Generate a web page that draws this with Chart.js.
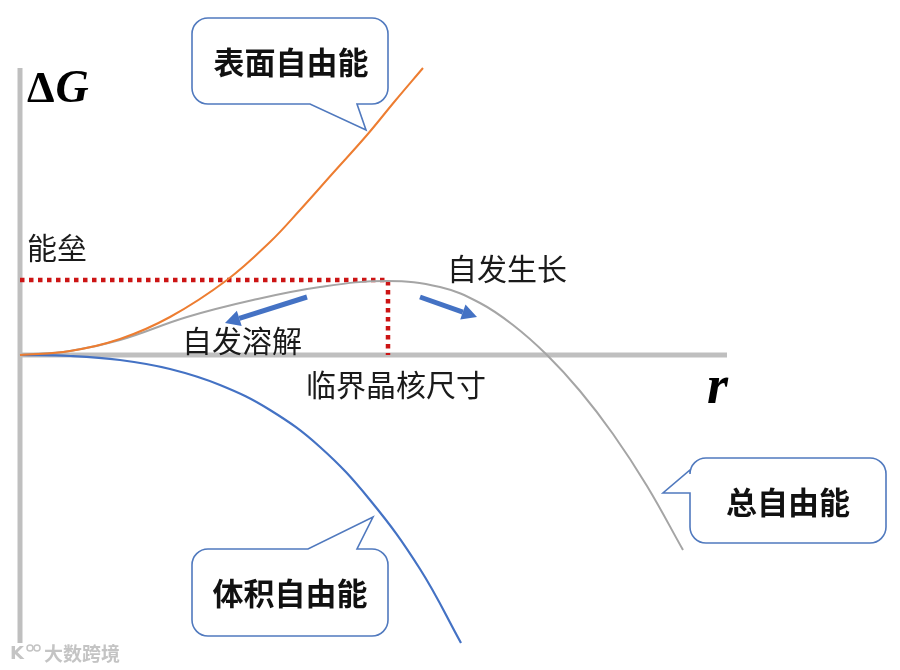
<!DOCTYPE html>
<html>
<head>
<meta charset="utf-8">
<script src="https://cdn.jsdelivr.net/npm/chart.js@4"></script>
<style>
  body { margin: 0; background: #fff; }
  #wrap { width: 900px; height: 670px; position: relative; }
</style>
</head>
<body>
<div id="wrap"><canvas id="myChart"></canvas></div>
<script>
// r (arbitrary units) and ΔG values
const surfaceR = [0, 5, 10, 15, 20.7, 25, 28, 31.3, 34.7, 37.5, 40.3];
const surfaceG = [0, 0.4, 1.6, 3.8, 7.5, 11.3, 14.5, 18.2, 22.0, 25.4, 28.7];

const volumeR = [0, 5, 10, 15, 20, 25, 30, 35, 40, 44.1];
const volumeG = [0, -0.1, -0.5, -1.4, -3.0, -5.5, -9.2, -14.5, -21.4, -28.8];

const totalR = [0, 5, 10, 16.7, 23.3, 30, 36.7, 42, 46, 49.3, 52.7, 56, 59.3, 62.7, 66.3];
const totalG = [0, 0.4, 1.5, 3.8, 5.5, 6.8, 7.4, 6.8, 5.2, 3.0, 0, -3.6, -7.9, -13.1, -19.5];

const criticalR = 36.8;
const barrierG = 7.5;
const axisEndR = 70.7;
const axisTopG = 28.7;
const axisBottomG = -28.8;

// arrows along the total curve: [fromR, fromG, toR, toG]
const arrows = [
  [28.7, 5.8, 20.5, 3.2],
  [40.0, 5.8, 45.7, 3.8]
];

function pts(xs, ys) {
  return xs.map(function (x, i) { return { x: x, y: ys[i] }; });
}

const axisGrey = '#bfbfbf';
const blue = '#4472c4';
const bubbleLine = '#5079be';
const cjk = '"Noto Sans CJK SC", "Noto Sans", sans-serif';

function bubble(ctx, b) {
  const x = b.x, y = b.y, w = b.w, h = b.h, r = 16;
  ctx.beginPath();
  ctx.moveTo(x + r, y);
  if (b.side === 'top') {
    ctx.lineTo(b.a, y); ctx.lineTo(b.tip[0], b.tip[1]); ctx.lineTo(b.b, y);
  }
  ctx.lineTo(x + w - r, y);
  ctx.arcTo(x + w, y, x + w, y + r, r);
  ctx.lineTo(x + w, y + h - r);
  ctx.arcTo(x + w, y + h, x + w - r, y + h, r);
  if (b.side === 'bottom') {
    ctx.lineTo(b.a, y + h); ctx.lineTo(b.tip[0], b.tip[1]); ctx.lineTo(b.b, y + h);
  }
  ctx.lineTo(x + r, y + h);
  ctx.arcTo(x, y + h, x, y + h - r, r);
  if (b.side === 'left') {
    ctx.lineTo(x, b.a); ctx.lineTo(b.tip[0], b.tip[1]); ctx.lineTo(x, b.b);
  }
  ctx.lineTo(x, y + r);
  ctx.arcTo(x, y, x + r, y, r);
  ctx.closePath();
  ctx.fillStyle = '#fff';
  ctx.fill();
  ctx.lineWidth = 1.6;
  ctx.strokeStyle = bubbleLine;
  ctx.stroke();

  ctx.fillStyle = '#111';
  ctx.font = 'bold 31px ' + cjk;
  ctx.textAlign = 'center';
  ctx.textBaseline = 'middle';
  ctx.fillText(b.text, b.tx, b.ty);
}

const extras = {
  id: 'extras',
  afterDatasetsDraw: function (chart) {
    const ctx = chart.ctx;
    const xs = chart.scales.x, ys = chart.scales.y;
    ctx.save();

    // arrows
    arrows.forEach(function (a) {
      const x1 = xs.getPixelForValue(a[0]), y1 = ys.getPixelForValue(a[1]);
      const x2 = xs.getPixelForValue(a[2]), y2 = ys.getPixelForValue(a[3]);
      const ang = Math.atan2(y2 - y1, x2 - x1);
      const hl = 15, hw = 8;
      const bx = x2 - hl * Math.cos(ang), by = y2 - hl * Math.sin(ang);
      ctx.strokeStyle = blue;
      ctx.lineWidth = 5;
      ctx.beginPath();
      ctx.moveTo(x1, y1);
      ctx.lineTo(bx, by);
      ctx.stroke();
      ctx.fillStyle = blue;
      ctx.beginPath();
      ctx.moveTo(x2, y2);
      ctx.lineTo(bx + hw * Math.sin(ang), by - hw * Math.cos(ang));
      ctx.lineTo(bx - hw * Math.sin(ang), by + hw * Math.cos(ang));
      ctx.closePath();
      ctx.fill();
    });

    // bubbles
    bubble(ctx, { x: 192, y: 18, w: 196, h: 86, side: 'bottom', a: 357, b: 310, tip: [366, 130], text: '表面自由能', tx: 291, ty: 62 });
    bubble(ctx, { x: 690, y: 458, w: 196, h: 85, side: 'left', a: 493, b: 470, tip: [663, 493], text: '总自由能', tx: 788, ty: 502 });
    bubble(ctx, { x: 192, y: 549, w: 196, h: 87, side: 'top', a: 308, b: 357, tip: [373, 517], text: '体积自由能', tx: 290, ty: 593 });

    // plain labels
    ctx.fillStyle = '#1a1a1a';
    ctx.font = '30px ' + cjk;
    ctx.textAlign = 'left';
    ctx.textBaseline = 'middle';
    ctx.fillText('能垒', 27, 248);
    ctx.fillText('自发溶解', 182, 341);
    ctx.fillText('临界晶核尺寸', 306, 385);
    ctx.fillText('自发生长', 447, 269);

    // axis titles
    ctx.fillStyle = '#000';
    ctx.textBaseline = 'alphabetic';
    ctx.font = 'bold 44px "Liberation Serif", serif';
    ctx.fillText('Δ', 27, 102);
    const dw = ctx.measureText('Δ').width;
    ctx.font = 'bold italic 46px "Liberation Serif", serif';
    ctx.fillText('G', 27 + dw + 1, 102);
    ctx.font = 'bold italic 54px "Liberation Serif", serif';
    ctx.fillText('r', 707, 403);

    // watermark
    ctx.fillStyle = '#c4c4c4';
    ctx.strokeStyle = '#c4c4c4';
    ctx.font = 'bold 19px ' + cjk;
    ctx.textBaseline = 'middle';
    ctx.fillText('大数跨境', 44, 654);
    ctx.font = 'bold 18px "DejaVu Sans", sans-serif';
    ctx.fillText('K', 10, 654);
    ctx.lineWidth = 1.5;
    ctx.beginPath(); ctx.arc(30, 648, 3, 0, Math.PI * 2); ctx.stroke();
    ctx.beginPath(); ctx.arc(37, 648, 3, 0, Math.PI * 2); ctx.stroke();

    ctx.restore();
  }
};

const ctx = document.getElementById('myChart');

new Chart(ctx, {
  type: 'scatter',
  data: {
    datasets: [
      {
        data: [{ x: 0, y: axisTopG }, { x: 0, y: axisBottomG }],
        showLine: true, borderColor: axisGrey, borderWidth: 5, pointRadius: 0, order: 10
      },
      {
        data: [{ x: 0, y: 0 }, { x: axisEndR, y: 0 }],
        showLine: true, borderColor: axisGrey, borderWidth: 5, pointRadius: 0, order: 10
      },
      {
        data: [{ x: 0, y: barrierG }, { x: criticalR, y: barrierG }, { x: criticalR, y: 0 }],
        showLine: true, borderColor: '#cc1414', borderWidth: 4.5, borderDash: [4.5, 4.5],
        borderCapStyle: 'butt', pointRadius: 0, tension: 0, order: 5
      },
      {
        data: pts(totalR, totalG),
        showLine: true, borderColor: '#a5a5a5', borderWidth: 2, pointRadius: 0,
        tension: 0.4, order: 3
      },
      {
        data: pts(volumeR, volumeG),
        showLine: true, borderColor: blue, borderWidth: 2.2, pointRadius: 0,
        tension: 0.4, order: 2
      },
      {
        data: pts(surfaceR, surfaceG),
        showLine: true, borderColor: '#ed7d31', borderWidth: 2, pointRadius: 0,
        tension: 0.4, order: 1
      }
    ]
  },
  options: {
    responsive: true,
    maintainAspectRatio: false,
    animation: false,
    layout: { padding: 0 },
    plugins: { legend: { display: false }, tooltip: { enabled: false } },
    scales: {
      x: { type: 'linear', min: -2, max: 88, display: false },
      y: { type: 'linear', min: -31.5, max: 35.5, display: false }
    }
  },
  plugins: [extras]
});
</script>
</body>
</html>
